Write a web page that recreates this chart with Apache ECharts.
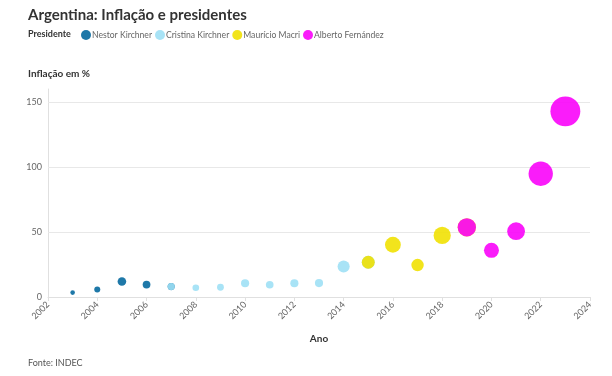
<!DOCTYPE html>
<html>
<head>
<meta charset="utf-8">
<script src="https://cdn.jsdelivr.net/npm/echarts@6/dist/echarts.min.js"></script>
<style>
  html, body { margin: 0; padding: 0; background: #fff; }
  #chart { width: 612px; height: 376px; }
</style>
</head>
<body>
<div id="chart"></div>
<script>
// inflation by year (%), INDEC
const years = [2003, 2004, 2005, 2006, 2007, 2008, 2009, 2010, 2011, 2012, 2013,
  2014, 2015, 2016, 2017, 2018, 2019, 2020, 2021, 2022, 2023];
const inflation = [3.4, 5.8, 11.9, 9.6, 8.0, 7.1, 7.5, 10.6, 9.4, 10.6, 10.7,
  23.5, 26.7, 40.2, 24.6, 47.4, 53.6, 35.9, 50.6, 94.8, 142.8];

const presidents = ["Nestor Kirchner", "Cristina Kirchner", "Maurício Macri", "Alberto Fernández"];
// first and last year of each term (transition years appear in both)
const termStart = [2003, 2007, 2015, 2019];
const termEnd = [2007, 2015, 2019, 2023];
const colors = ["#06699e", "#9fe0f5", "#f1e103", "#fa03fa"];

const yTicks = [50, 100, 150];

function termData(i) {
  const out = [];
  years.forEach((y, k) => {
    if (y >= termStart[i] && y <= termEnd[i]) out.push([y, inflation[k]]);
  });
  return out;
}

const chart = echarts.init(document.getElementById("chart"));
const font = "Lato, 'Noto Sans', sans-serif";

const series = presidents.map((name, i) => ({
  name: name,
  type: "scatter",
  z: 3,
  data: termData(i),
  symbolSize: (v) => 2.5 * Math.sqrt(v[1]),
  itemStyle: { color: colors[i], opacity: 0.9 },
  emphasis: { disabled: true }
}));
// horizontal grid lines, kept under the bubbles
series.push({
  name: "grid",
  type: "scatter",
  z: 1,
  data: [],
  markLine: {
    z: 1,
    silent: true,
    symbol: "none",
    label: { show: false },
    lineStyle: { color: "#e8e8e8", type: "solid", width: 1 },
    data: yTicks.map((v) => ({ yAxis: v }))
  }
});

chart.setOption({
  animation: false,
  textStyle: { fontFamily: font },
  title: {
    text: "Argentina: Inflação e presidentes",
    left: 23,
    top: 3,
    textStyle: { fontSize: 15, fontWeight: "bold", color: "#333", fontFamily: font }
  },
  legend: {
    left: 76,
    top: 25,
    icon: "circle",
    itemWidth: 10,
    itemHeight: 10,
    itemGap: 3,
    textStyle: { fontSize: 8.6, color: "#666", padding: [0, 0, 0, -4] },
    data: presidents
  },
  graphic: [
    { type: "text", left: 28, top: 30, style: { text: "Presidente", font: "bold 9px " + font, fill: "#333" } },
    { type: "text", left: 28, top: 69, style: { text: "Inflação em %", font: "bold 10px " + font, fill: "#333" } },
    { type: "text", left: 28, top: 359, style: { text: "Fonte: INDEC", font: "9px " + font, fill: "#555" } }
  ],
  grid: { left: 48, right: 22, top: 89, bottom: 79 },
  xAxis: {
    type: "value",
    min: 2002,
    max: 2024,
    interval: 2,
    name: "Ano",
    nameLocation: "middle",
    nameGap: 37,
    nameTextStyle: { fontSize: 10, fontWeight: "bold", color: "#333" },
    axisLine: { lineStyle: { color: "#e0e0e0" } },
    axisTick: { show: true, length: 4, lineStyle: { color: "#e0e0e0" } },
    splitLine: { show: false },
    axisLabel: { rotate: 45, fontSize: 9, color: "#666", margin: 6, formatter: (v) => String(v) }
  },
  yAxis: {
    type: "value",
    min: 0,
    max: 160,
    interval: 50,
    axisLine: { show: true, lineStyle: { color: "#e0e0e0" } },
    axisTick: { show: false },
    splitLine: { show: false },
    axisLabel: { fontSize: 9, color: "#666", margin: 6, showMaxLabel: false }
  },
  series: series
});
</script>
</body>
</html>
